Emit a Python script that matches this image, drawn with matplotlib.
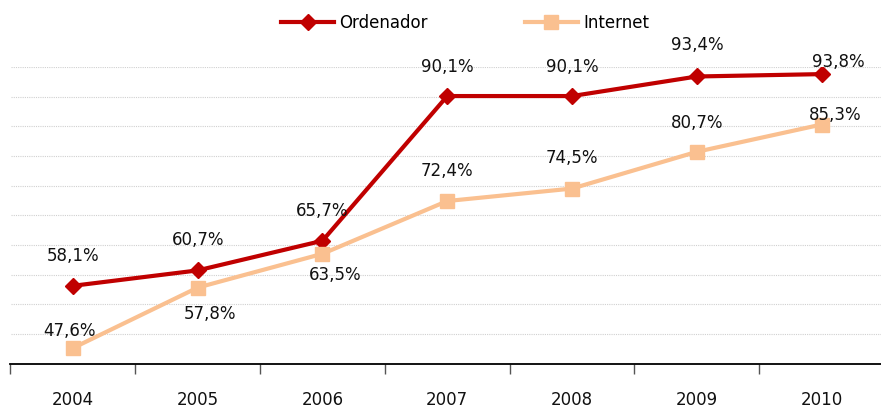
import numpy as np
import matplotlib.pyplot as plt

# Datos
years = ['2004', '2005', '2006', '2007', '2008', '2009', '2010']
ordenador = [58.1, 60.7, 65.7, 90.1, 90.1, 93.4, 93.8]
internet = [47.6, 57.8, 63.5, 72.4, 74.5, 80.7, 85.3]

# desplazamiento de las etiquetas (pixeles)
ord_off = [(0, 30), (0, 30), (0, 30), (0, 29), (0, 29), (0, 31), (17, 12)]
int_off = [(-3, 17), (12, -26), (13, -21), (0, 30), (0, 31), (0, 29), (14, 10)]

red = '#C00000'
peach = '#FAC090'

fig = plt.figure(figsize=(8.81, 4.09), dpi=100)
ax = fig.add_axes([10.5 / 881, 1 - 363.5 / 409, 873.5 / 881, (363.5 - 67) / 409])

x = np.arange(len(years))
ax.plot(x, ordenador, color=red, lw=3, marker='D', ms=8, label='Ordenador', zorder=3)
ax.plot(x, internet, color=peach, lw=3, marker='s', ms=10, label='Internet', zorder=3)

for xi, v, (dx, dy) in zip(x, ordenador, ord_off):
    ax.annotate(f'{v:.1f}%'.replace('.', ','), (xi, v), xytext=(dx, dy),
                textcoords='offset pixels', ha='center', va='center',
                fontsize=12, color='#111111', annotation_clip=False)
for xi, v, (dx, dy) in zip(x, internet, int_off):
    ax.annotate(f'{v:.1f}%'.replace('.', ','), (xi, v), xytext=(dx, dy),
                textcoords='offset pixels', ha='center', va='center',
                fontsize=12, color='#111111', annotation_clip=False)

ax.set_xlim(-0.5, len(years) - 0.5)
ax.set_ylim(45, 95)
ax.set_yticks(np.arange(50, 96, 5))
ax.tick_params(axis='y', left=False, labelleft=False)
ax.grid(axis='y', color='#D0D0D0', linestyle=(0, (1, 1)), linewidth=0.8)

ax.set_xticks(x)
ax.set_xticklabels(years, fontsize=12, color='#111111')
ax.set_xticks(np.arange(-0.5, len(years), 1), minor=True)
ax.tick_params(axis='x', which='major', length=0, pad=20)
ax.tick_params(axis='x', which='minor', length=7, width=1, color='#555555')

for s in ['top', 'right', 'left']:
    ax.spines[s].set_visible(False)
ax.spines['bottom'].set_linewidth(1.3)
ax.spines['bottom'].set_color('black')

fig.legend(loc='center', bbox_to_anchor=(465 / 881, 1 - 23 / 409), ncol=2,
           frameon=False, fontsize=12, handlelength=3.2, columnspacing=5.8,
           handletextpad=0.3)

plt.savefig('out.png', dpi=100)
